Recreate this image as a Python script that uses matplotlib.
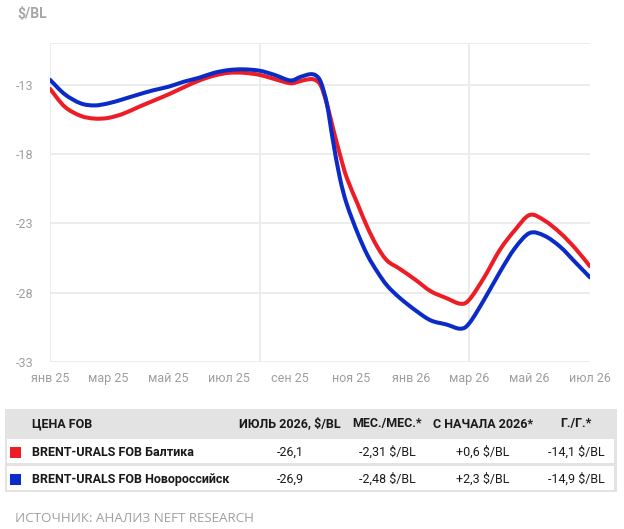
import matplotlib
matplotlib.use('Agg')
import matplotlib.pyplot as plt
import matplotlib.dates as mdates
from matplotlib.patches import Rectangle, PathPatch
from matplotlib.path import Path
import numpy as np
import pandas as pd

plt.rcParams['font.family'] = ['Roboto', 'DejaVu Sans']

# Data
dates = ['2025-01-01', '2025-01-16', '2025-02-01', '2025-02-15', '2025-03-01', '2025-03-16',
         '2025-04-01', '2025-04-16', '2025-05-01', '2025-05-16', '2025-06-01', '2025-06-16',
         '2025-07-01', '2025-07-16', '2025-08-01', '2025-08-16', '2025-09-01', '2025-09-11',
         '2025-09-21', '2025-09-27', '2025-10-02', '2025-10-08', '2025-10-14', '2025-10-21',
         '2025-10-28', '2025-11-08', '2025-11-18', '2025-11-28', '2025-12-08', '2025-12-21',
         '2026-01-06', '2026-01-21', '2026-02-06', '2026-02-20', '2026-03-01', '2026-03-16',
         '2026-04-01', '2026-04-16', '2026-05-01', '2026-05-16', '2026-06-01', '2026-06-16',
         '2026-07-01']
baltic = [-13.3, -14.6, -15.25, -15.45, -15.4, -15.1, -14.6, -14.15, -13.7, -13.2, -12.7, -12.35,
          -12.15, -12.15, -12.3, -12.6, -12.9, -12.75, -12.6, -12.7, -13.1, -14.4, -16.1, -18.0,
          -19.7, -21.6, -23.3, -24.7, -25.7, -26.3, -27.1, -27.9, -28.4, -28.8, -28.5, -26.9,
          -24.9, -23.5, -22.4, -22.8, -23.7, -24.8, -26.1]
novoros = [-12.65, -13.7, -14.35, -14.5, -14.35, -14.05, -13.7, -13.4, -13.15, -12.8, -12.5, -12.15,
           -11.95, -11.9, -12.0, -12.3, -12.7, -12.45, -12.25, -12.35, -12.85, -14.4, -17.0, -19.7,
           -21.6, -23.7, -25.3, -26.5, -27.5, -28.4, -29.3, -30.0, -30.3, -30.6, -30.2, -28.5,
           -26.5, -24.8, -23.7, -23.9, -24.7, -25.8, -26.9]

tick_dates = ['2025-01-01', '2025-03-01', '2025-05-01', '2025-07-01', '2025-09-01', '2025-11-01',
              '2026-01-01', '2026-03-01', '2026-05-01', '2026-07-01']
tick_labels = ['янв 25', 'мар 25', 'май 25', 'июл 25', 'сен 25', 'ноя 25',
               'янв 26', 'мар 26', 'май 26', 'июл 26']
vgrid_dates = ['2025-01-01', '2025-08-01', '2026-03-01']
y_ticks = [-33, -28, -23, -18, -13]

header = ['ЦЕНА FOB', 'ИЮЛЬ 2026, $/BL', 'МЕС./МЕС.*', 'С НАЧАЛА 2026*', 'Г./Г.*']
names = ['BRENT-URALS FOB Балтика', 'BRENT-URALS FOB Новороссийск']
last_vals = ['-26,1', '-26,9']
mom = ['-2,31 $/BL', '-2,48 $/BL']
ytd = ['+0,6 $/BL', '+2,3 $/BL']
yoy = ['-14,1 $/BL', '-14,9 $/BL']

RED = '#EE1C24'
BLUE = '#0A2BC8'
GRID = '#EBEBEB'
TICK = '#9E9E9E'

W, H = 624, 529
fig = plt.figure(figsize=(W / 100, H / 100), dpi=100)

def fx(px):
    return px / W

def fy(py):
    return 1 - py / H

def smooth_path(xs, ys):
    # catmull-rom through the points, drawn as cubic bezier segments
    p = np.column_stack([xs, ys])
    verts = [p[0]]
    codes = [Path.MOVETO]
    n = len(p)
    for i in range(n - 1):
        p0 = p[max(i - 1, 0)]
        p1 = p[i]
        p2 = p[i + 1]
        p3 = p[min(i + 2, n - 1)]
        c1 = p1 + (p2 - p0) / 6
        c2 = p2 - (p3 - p1) / 6
        verts += [c1, c2, p2]
        codes += [Path.CURVE4] * 3
    return Path(verts, codes)

ax = fig.add_axes([fx(50), fy(362), fx(590) - fx(50), fy(43) - fy(362)])
xn = mdates.date2num(pd.to_datetime(dates))
for vals, col, z in [(baltic, RED, 3), (novoros, BLUE, 4)]:
    ax.add_patch(PathPatch(smooth_path(xn, vals), facecolor='none', edgecolor=col, lw=2.9,
                           joinstyle='round', capstyle='round', zorder=z))

ax.set_xlim(pd.Timestamp('2025-01-01'), pd.Timestamp('2026-07-01'))
ax.set_ylim(-33, -10)
ax.set_yticks(y_ticks)
ax.set_yticklabels([str(v) for v in y_ticks])
ax.set_xticks(pd.to_datetime(tick_dates))
ax.set_xticklabels(tick_labels)
ax.tick_params(length=0, labelsize=9, labelcolor=TICK)
ax.tick_params(axis='y', pad=12)
ax.tick_params(axis='x', pad=7)
for s in ax.spines.values():
    s.set_visible(False)
for v in y_ticks + [-10]:
    ax.axhline(v, color=GRID, lw=1.3, zorder=1)
for d in vgrid_dates:
    ax.axvline(pd.Timestamp(d), color=GRID, lw=1.3, zorder=1)

fig.text(fx(17), fy(14), '$/BL', fontsize=10, fontweight='bold', color='#A6A6A6', va='center')

# table under the chart
ov = fig.add_axes([0, 0, 1, 1], zorder=5)
ov.set_xlim(0, W)
ov.set_ylim(H, 0)
ov.axis('off')
ov.patch.set_alpha(0)
ov.add_patch(Rectangle((5, 409), 612, 83, facecolor='#E3E3E3', edgecolor='none'))
row_tops = [439, 466]
row_ys = [452, 479]
for t in row_tops:
    ov.add_patch(Rectangle((7, t), 607, 24, facecolor='white', edgecolor='none'))

col_x = [32, 290, 387, 483, 576]
txt = '#1A1A1A'
fs = 9
ov.text(col_x[0], 424, header[0], fontsize=fs, fontweight='bold', color=txt, va='center', ha='left')
for cx, h in zip(col_x[1:], header[1:]):
    ov.text(cx, 424, h, fontsize=fs, fontweight='bold', color=txt, va='center', ha='center')

for i, (col, y) in enumerate(zip([RED, BLUE], row_ys)):
    ov.add_patch(Rectangle((10, y - 5.5), 11, 11, facecolor=col, edgecolor='none'))
    ov.text(col_x[0], y, names[i], fontsize=fs, fontweight='bold', color=txt, va='center', ha='left')
    for cx, val in zip(col_x[1:], [last_vals[i], mom[i], ytd[i], yoy[i]]):
        ov.text(cx, y, val, fontsize=fs, color=txt, va='center', ha='center')

ov.text(15, 518, 'ИСТОЧНИК: АНАЛИЗ NEFT RESEARCH', fontsize=9.6, color='#A0A0A0',
        va='center', ha='left', family=['Open Sans', 'DejaVu Sans'])

fig.savefig('out.png', dpi=100, facecolor='white')
